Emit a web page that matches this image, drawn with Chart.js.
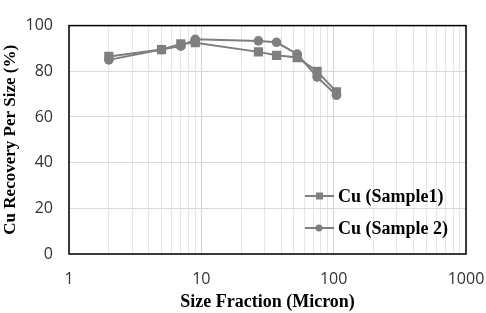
<!DOCTYPE html>
<html>
<head>
<meta charset="utf-8">
<script src="https://cdn.jsdelivr.net/npm/chart.js@4/dist/chart.umd.min.js"></script>
<style>
  html, body { margin: 0; padding: 0; background: #fff; }
  #wrap { width: 486px; height: 313px; position: relative; }
</style>
</head>
<body>
<div id="wrap"><canvas id="chart" width="486" height="313"></canvas></div>
<script>
// size fractions (micron) and recovery per size (%)
const sizes = [2, 5, 7, 9, 27, 37, 53, 75, 105];
const sample1 = [86.5, 89.5, 92, 92.5, 88.5, 87, 86, 80, 71];
const sample2 = [85, 89.5, 91, 94, 93.3, 92.7, 87.5, 77.5, 69.5];
const seriesNames = ['Cu (Sample1)', 'Cu (Sample 2)'];
const xTicks = [1, 10, 100, 1000];

const grey = '#7f7f7f';

function toPoints(vals) {
    return sizes.map((s, i) => ({ x: s, y: vals[i] }));
}

// plot frame + legend inside the plot area
const framePlugin = {
    id: 'frame',
    afterDraw(chart) {
        const ctx = chart.ctx;
        const a = chart.chartArea;
        ctx.save();
        ctx.strokeStyle = '#000';
        ctx.lineWidth = 1.5;
        ctx.strokeRect(a.left, a.top, a.right - a.left, a.bottom - a.top);

        ctx.font = 'bold 18px "Liberation Serif", serif';
        ctx.textBaseline = 'middle';
        const rows = [196, 228];
        chart.data.datasets.forEach((ds, i) => {
            const y = rows[i];
            ctx.strokeStyle = grey;
            ctx.lineWidth = 2;
            ctx.beginPath();
            ctx.moveTo(305, y);
            ctx.lineTo(334, y);
            ctx.stroke();
            ctx.fillStyle = grey;
            if (ds.pointStyle === 'rect') {
                ctx.fillRect(316, y - 3.5, 7, 7);
            } else {
                ctx.beginPath();
                ctx.arc(319, y, 3.5, 0, Math.PI * 2);
                ctx.fill();
            }
            ctx.fillStyle = '#000';
            ctx.fillText(ds.label, 338, y + 1);
        });
        ctx.restore();
    }
};

new Chart(document.getElementById('chart').getContext('2d'), {
    type: 'line',
    data: {
        datasets: [
            {
                label: seriesNames[0],
                data: toPoints(sample1),
                borderColor: grey,
                backgroundColor: grey,
                borderWidth: 2,
                pointStyle: 'rect',
                pointRadius: 6.5,
                pointBorderWidth: 0
            },
            {
                label: seriesNames[1],
                data: toPoints(sample2),
                borderColor: grey,
                backgroundColor: grey,
                borderWidth: 2,
                pointStyle: 'circle',
                pointRadius: 4.8,
                pointBorderWidth: 0
            }
        ]
    },
    options: {
        responsive: false,
        animation: false,
        devicePixelRatio: 1,
        layout: { padding: { top: 16, right: 20, left: 0, bottom: 0 } },
        plugins: {
            legend: { display: false },
            tooltip: { enabled: false }
        },
        scales: {
            x: {
                type: 'logarithmic',
                min: 1,
                max: 1000,
                afterFit(scale) {
                    scale.height = 59;
                    scale.paddingLeft = 0;
                    scale.paddingRight = 0;
                },
                afterBuildTicks(scale) {
                    const t = [];
                    for (let d = 1; d < 1000; d *= 10) {
                        for (let m = 1; m < 10; m++) t.push({ value: m * d });
                    }
                    t.push({ value: 1000 });
                    scale.ticks = t;
                },
                grid: {
                    color: ctx => xTicks.includes(ctx.tick.value) ? '#d4d4d4' : '#e6e6e6',
                    lineWidth: 1,
                    drawTicks: false
                },
                border: { display: false },
                ticks: {
                    autoSkip: false,
                    maxRotation: 0,
                    padding: 16,
                    color: '#333',
                    font: { family: '"Open Sans", sans-serif', size: 16 },
                    callback: v => xTicks.includes(v) ? String(v) : ''
                },
                title: {
                    display: true,
                    text: 'Size Fraction (Micron)',
                    color: '#000',
                    font: { family: '"Liberation Serif", serif', size: 18, weight: 'bold' },
                    padding: { top: 0, bottom: 0 }
                }
            },
            y: {
                min: 0,
                max: 100,
                afterFit(scale) { scale.width = 69; },
                grid: { color: '#d9d9d9', lineWidth: 1, drawTicks: false },
                border: { display: false },
                ticks: {
                    stepSize: 20,
                    padding: 16,
                    color: '#333',
                    font: { family: '"Open Sans", sans-serif', size: 16 }
                },
                title: {
                    display: true,
                    text: 'Cu Recovery Per Size (%)',
                    color: '#000',
                    font: { family: '"Liberation Serif", serif', size: 17, weight: 'bold' },
                    padding: { top: 0, bottom: 0 }
                }
            }
        }
    },
    plugins: [framePlugin]
});
</script>
</body>
</html>
